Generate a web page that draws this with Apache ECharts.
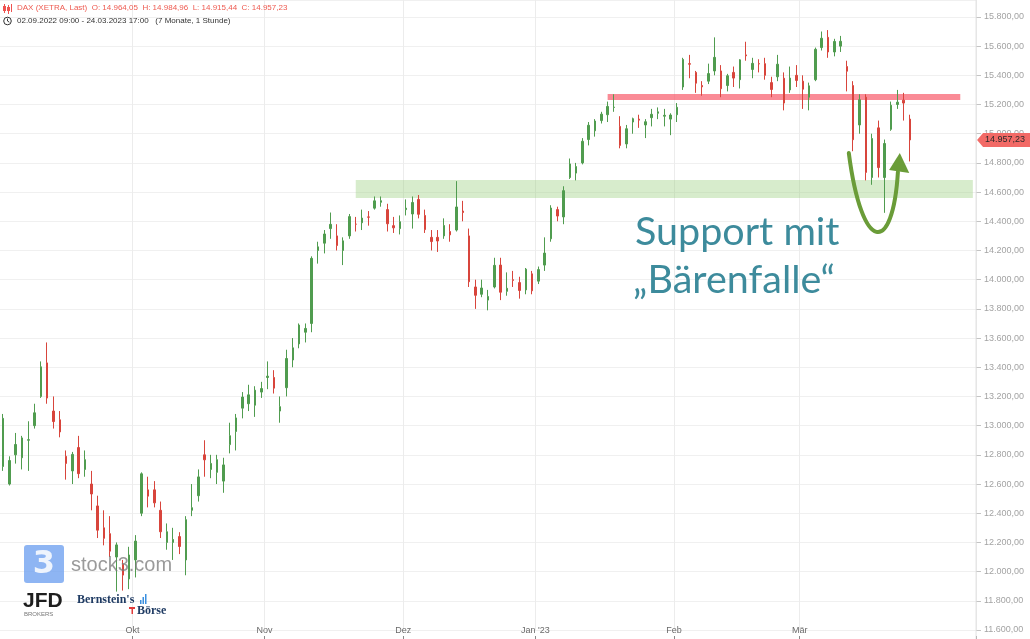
<!DOCTYPE html>
<html><head><meta charset="utf-8">
<script src="https://cdn.jsdelivr.net/npm/echarts@6/dist/echarts.min.js"></script>
<style>html,body{margin:0;padding:0;background:#fff}#c{width:1030px;height:639px}</style>
</head><body><div id="c"></div>
<script>
// ---- trading days (categories) ----
const sepDays = ['02','05','06','07','08','09','12','13','14','15','16','19','20','21','22','23','26','27','28','29','30'];
const octDays = ['03','04','05','06','07','10','11','12','13','14','17','18','19','20','21','24','25','26','27','28','31'];
const novDays = ['01','02','03','04','07','08','09','10','11','14','15','16','17','18','21','22','23','24','25','28','29','30'];
const decDays = ['01','02','05','06','07','08','09','12','13','14','15','16','19','20','21','22','23','27','28','29','30'];
const janDays = ['02','03','04','05','06','09','10','11','12','13','16','17','18','19','20','23','24','25','26','27','30','31'];
const febDays = ['01','02','03','06','07','08','09','10','13','14','15','16','17','20','21','22','23','24','27','28'];
const marDays = ['01','02','03','06','07','08','09','10','13','14','15','16','17','20','21','22','23','24'];
const futureDates = ['27.03.2023','28.03.2023','29.03.2023','30.03.2023','31.03.2023','03.04.2023','04.04.2023','05.04.2023','06.04.2023','11.04.2023'];

// ---- daily values [open, close, low, high] ----
const sepOHLC = [
[12720,13050,12690,13080],[12600,12761,12590,12790],[12800,12871,12740,12950],[12780,12916,12700,12930],
[12900,12904,12690,13030],[13000,13088,12980,13150],[13200,13403,13190,13440],[13430,13189,13150,13570],
[13100,13028,12980,13200],[13040,12957,12920,13100],[12790,12741,12630,12830],[12690,12803,12600,12820],
[12850,12671,12640,12930],[12700,12767,12650,12830],[12600,12532,12420,12690],[12450,12284,12230,12520],
[12300,12228,12180,12420],[12260,12140,12100,12380],[12100,12183,11863,12200],[12050,11976,11870,12080],
[11950,12114,11880,12170]];
const octOHLC = [
[12080,12209,11960,12250],[12400,12670,12380,12680],[12560,12517,12440,12650],[12560,12471,12440,12620],
[12420,12273,12230,12480],[12200,12273,12150,12330],[12200,12220,12080,12300],[12240,12172,12120,12270],
[12080,12356,11975,12380],[12420,12438,12380,12600],[12520,12649,12480,12700],[12800,12766,12650,12900],
[12700,12741,12640,12800],[12680,12767,12600,12800],[12620,12731,12540,12780],[12870,12931,12810,13020],
[12960,13053,12830,13080],[13120,13196,13050,13230],[13150,13211,13100,13280],[13140,13243,13060,13270],
[13230,13254,13190,13300]];
const novOHLC = [
[13330,13339,13250,13440],[13330,13257,13220,13380],[13100,13130,13020,13200],[13260,13460,13200,13520],
[13450,13533,13400,13600],[13560,13689,13530,13700],[13640,13666,13570,13700],[13700,14146,13640,14160],
[14200,14225,14110,14260],[14250,14313,14180,14340],[14350,14379,14280,14460],[14300,14234,14200,14380],
[14200,14266,14100,14290],[14300,14432,14280,14450],[14380,14380,14330,14430],[14390,14422,14340,14480],
[14430,14428,14370,14470],[14490,14540,14480,14570],[14530,14541,14500,14570],[14480,14383,14330,14520],
[14370,14355,14320,14430],[14350,14397,14310,14440]];
const decOHLC = [
[14480,14490,14440,14550],[14450,14529,14350,14570],[14550,14448,14420,14580],[14440,14343,14320,14480],
[14290,14261,14200,14340],[14290,14265,14190,14340],[14300,14371,14280,14420],[14330,14307,14260,14380],
[14340,14498,14330,14675],[14470,14460,14400,14540],[14300,13986,13950,14350],[13950,13893,13800,14000],
[13900,13943,13880,14000],[13860,13885,13790,13930],[13950,14098,13940,14150],[14100,13914,13860,14150],
[13920,13941,13890,14050],[14000,13995,13950,14060],[13980,13926,13870,14020],[13930,14072,13900,14080],
[14040,13924,13900,14060]];
const janOHLC = [
[13990,14069,13970,14090],[14100,14182,14060,14290],[14280,14491,14260,14510],[14480,14436,14400,14500],
[14430,14610,14380,14640],[14700,14793,14690,14830],[14730,14775,14680,14800],[14800,14948,14790,14970],
[14960,15058,14920,15080],[15020,15087,14980,15100],[15090,15134,15070,15150],[15130,15187,15080,15220],
[15180,15182,15150,15270],[15050,14920,14900,15120],[14930,15034,14900,15060],[15080,15103,15000,15110],
[15100,15093,15040,15130],[15060,15082,14970,15100],[15110,15133,15050,15170],[15140,15150,15100,15180],
[15120,15126,15050,15170],[15100,15128,14990,15140]];
const febOHLC = [
[15130,15181,15080,15210],[15320,15509,15300,15520],[15480,15476,15380,15540],[15420,15346,15280,15430],
[15330,15321,15260,15360],[15360,15412,15340,15480],[15430,15523,15400,15660],[15430,15308,15250,15470],
[15330,15397,15290,15410],[15420,15381,15320,15460],[15370,15506,15310,15510],[15540,15534,15500,15630],
[15440,15482,15380,15520],[15480,15478,15420,15510],[15480,15400,15370,15520],[15350,15303,15250,15390],
[15390,15476,15360,15540],[15380,15210,15160,15420],[15300,15381,15280,15460],[15400,15365,15320,15470]];
const marOHLC = [
[15360,15305,15170,15400],[15250,15328,15160,15350],[15370,15578,15360,15590],[15590,15654,15570,15700],
[15660,15560,15520,15710],[15560,15632,15530,15650],[15600,15633,15560,15670],[15460,15428,15290,15500],
[15330,14959,14880,15360],[15060,15233,15000,15270],[15250,14735,14680,15270],[14700,14967,14650,15000],
[15040,14768,14700,15090],[14700,14933,14458,14960],[15030,15195,15020,15220],[15200,15216,15170,15300],
[15230,15210,15090,15280],[15100,14957.23,14810,15130]];

// ---- levels / texts ----
const lastPrice = 14957.23;
const supportZone = [14560, 14683];      // green band
const resistanceZone = [15231, 15272];   // red band
const monthNames = {'10':'Okt','11':'Nov','12':'Dez','01':"Jan '23",'02':'Feb','03':'Mär'};
const headerLine1 = 'DAX (XETRA, Last)  O: 14.964,05  H: 14.984,96  L: 14.915,44  C: 14.957,23';
const headerLine2 = '02.09.2022 09:00 - 24.03.2023 17:00   (7 Monate, 1 Stunde)';

const dates = [].concat(
  sepDays.map(d => d + '.09.2022'), octDays.map(d => d + '.10.2022'), novDays.map(d => d + '.11.2022'),
  decDays.map(d => d + '.12.2022'), janDays.map(d => d + '.01.2023'), febDays.map(d => d + '.02.2023'),
  marDays.map(d => d + '.03.2023'));
const categories = dates.concat(futureDates);
const ohlc = [].concat(sepOHLC, octOHLC, novOHLC, decOHLC, janOHLC, febOHLC, marOHLC);

function isMonthStart(i) {
  if (i === 0) return false;
  const m = categories[i].slice(3, 5), pm = categories[i - 1].slice(3, 5);
  return m !== pm && !!monthNames[m];
}
function de(v) {
  const s = Number(v).toFixed(2).split('.');
  return s[0].replace(/\B(?=(\d{3})+(?!\d))/g, '.') + ',' + s[1];
}

const chart = echarts.init(document.getElementById('c'));
const UP = '#509c4f', DOWN = '#d8453c';
chart.setOption({
  animation: false,
  grid: {left: 0, right: 54, top: 0, bottom: 9},
  xAxis: [{
    type: 'category', data: categories, boundaryGap: true,
    axisLine: {show: false}, axisTick: {show: false},
    axisLabel: {interval: (i) => isMonthStart(i), formatter: (v) => monthNames[v.slice(3, 5)] || '',
      color: '#6a6a6a', fontSize: 9, margin: 1, verticalAlign: 'middle', padding: [0, 6, 0, 0], fontFamily: 'Liberation Sans, Arial'},
    splitLine: {show: true, interval: (i) => isMonthStart(i), lineStyle: {color: '#ececec'}}
  }, {
    type: 'category', data: categories, boundaryGap: true, position: 'bottom', offset: 6,
    axisLine: {show: false},
    axisTick: {show: true, length: 3, interval: (i) => isMonthStart(i), lineStyle: {color: '#888'}},
    axisLabel: {show: false}, splitLine: {show: false}
  }],
  yAxis: {
    type: 'value', position: 'right', min: 11600, max: 15916, interval: 200,
    axisLine: {show: false},
    axisTick: {show: true, length: 5, lineStyle: {color: '#c4c4c4'}},
    axisLabel: {margin: 8, color: '#a3a3a3', fontSize: 9, formatter: de, showMaxLabel: false, fontFamily: 'Liberation Sans, Arial'},
    splitLine: {lineStyle: {color: '#f0f0f0'}}
  },
  series: [{
    type: 'candlestick', data: ohlc, barWidth: 2,
    itemStyle: {color: UP, color0: DOWN, borderColor: UP, borderColor0: DOWN, borderWidth: 1},
    markArea: {silent: true, data: [
      [{xAxis: 56, yAxis: supportZone[0], itemStyle: {color: 'rgba(150,205,120,0.38)'}}, {xAxis: 154, yAxis: supportZone[1]}],
      [{xAxis: 96, yAxis: resistanceZone[0], itemStyle: {color: 'rgba(248,84,100,0.68)'}}, {xAxis: 152, yAxis: resistanceZone[1]}]
    ]}
  }]
});

// pixel helper for annotations (data coords -> px, fractional index allowed)
function toPx(fi, v) {
  const i0 = Math.floor(fi);
  const p0 = chart.convertToPixel({gridIndex: 0}, [i0, v]);
  const p1 = chart.convertToPixel({gridIndex: 0}, [i0 + 1, v]);
  return [p0[0] + (p1[0] - p0[0]) * (fi - i0), p0[1]];
}
const arrowCurve = [[134.3, 14868], [136.4, 14169], [141.3, 14169], [142.1, 14738]];
const arrowHead = [[142.4, 14868], [140.7, 14752], [143.9, 14731]];
const c = arrowCurve.map(p => toPx(p[0], p[1]));
const h = arrowHead.map(p => toPx(p[0], p[1]));
const tagY = chart.convertToPixel({yAxisIndex: 0}, lastPrice);
const axisX = chart.convertToPixel({gridIndex: 0}, [categories.length - 1, 0])[0] + 3.2;
const textStyleBase = {fontFamily: 'Liberation Sans, Arial, sans-serif'};

chart.setOption({graphic: [
  {type: 'line', z: 50, shape: {x1: axisX, y1: 0, x2: axisX, y2: 639}, style: {stroke: '#e2e2e2', lineWidth: 1}},
  // header icon (candles)
  {type: 'group', z: 100, children: [
    {type: 'line', shape: {x1: 4.5, y1: 4, x2: 4.5, y2: 13}, style: {stroke: '#ef5350', lineWidth: 1}},
    {type: 'rect', shape: {x: 3, y: 6, width: 3, height: 5}, style: {fill: '#ef5350'}},
    {type: 'line', shape: {x1: 8.5, y1: 5, x2: 8.5, y2: 14}, style: {stroke: '#ef5350', lineWidth: 1}},
    {type: 'rect', shape: {x: 7, y: 7, width: 3, height: 4}, style: {fill: '#ef5350'}},
    {type: 'line', shape: {x1: 11.5, y1: 4, x2: 11.5, y2: 12}, style: {stroke: '#ef5350', lineWidth: 1}}
  ]},
  {type: 'text', z: 100, left: 17, top: 4, style: Object.assign({text: headerLine1, fill: '#ee5a50', fontSize: 8}, textStyleBase)},
  // clock icon
  {type: 'circle', z: 100, shape: {cx: 7.5, cy: 21, r: 3.8}, style: {fill: 'none', stroke: '#333', lineWidth: 1}},
  {type: 'polyline', z: 100, shape: {points: [[7.5, 18.6], [7.5, 21], [9.3, 22.2]]}, style: {fill: 'none', stroke: '#333', lineWidth: 1}},
  {type: 'text', z: 100, left: 17, top: 16.5, style: Object.assign({text: headerLine2, fill: '#333', fontSize: 8}, textStyleBase)},
  // annotation text
  {type: 'text', z: 100, x: 635, y: 232, style: {text: 'Support mit', fill: '#3d8b9c', fontSize: 39.5, fontFamily: 'Lato, Open Sans, sans-serif', verticalAlign: 'middle'}},
  {type: 'text', z: 100, x: 633, y: 280, style: {text: '\u201EBärenfalle\u201C', fill: '#3d8b9c', fontSize: 39.5, fontFamily: 'Lato, Open Sans, sans-serif', verticalAlign: 'middle'}},
  // arrow
  {type: 'bezierCurve', z: 100, shape: {x1: c[0][0], y1: c[0][1], cpx1: c[1][0], cpy1: c[1][1], cpx2: c[2][0], cpy2: c[2][1], x2: c[3][0], y2: c[3][1]},
    style: {stroke: '#6a9c38', lineWidth: 4, fill: 'none', lineCap: 'round'}},
  {type: 'polygon', z: 100, shape: {points: h}, style: {fill: '#6a9c38'}},
  // last price tag
  {type: 'polygon', z: 110, shape: {points: [[axisX + 1, tagY], [axisX + 7, tagY - 7], [1030, tagY - 7], [1030, tagY + 7], [axisX + 7, tagY + 7]]}, style: {fill: '#f26a66'}},
  {type: 'text', z: 111, x: axisX + 9, y: tagY, style: Object.assign({text: de(lastPrice), fill: '#2a2a2a', fontSize: 9, verticalAlign: 'middle'}, textStyleBase)},
  // logos
  {type: 'rect', z: 100, shape: {x: 24, y: 545, width: 40, height: 38, r: 3}, style: {fill: 'rgba(110,160,240,0.78)'}},
  {type: 'text', z: 101, x: 44, y: 565, style: {text: '3', fill: 'rgba(255,255,255,0.85)', fontSize: 32, fontWeight: 'bold', align: 'center', verticalAlign: 'middle', fontFamily: 'DejaVu Sans, sans-serif'}},
  {type: 'text', z: 100, x: 71, y: 565, style: {text: 'stock3.com', fill: 'rgba(120,120,120,0.75)', fontSize: 20, verticalAlign: 'middle', fontFamily: 'Liberation Sans, Arial'}},
  {type: 'text', z: 100, x: 23, y: 601, style: {text: 'JFD', fill: '#1e1e1e', fontSize: 21, fontWeight: 'bold', verticalAlign: 'middle', fontFamily: 'Liberation Sans, Arial'}},
  {type: 'text', z: 100, x: 24, y: 614, style: {text: 'BROKERS', fill: '#777', fontSize: 6, verticalAlign: 'middle', fontFamily: 'Liberation Sans, Arial'}},
  {type: 'text', z: 100, x: 77, y: 600, style: {text: "Bernstein's", fill: '#1f3b63', fontSize: 12, fontWeight: 'bold', verticalAlign: 'middle', fontFamily: 'Liberation Serif, DejaVu Serif, serif'}},
  {type: 'rect', z: 100, shape: {x: 140, y: 600, width: 1.5, height: 4}, style: {fill: '#3a8fe0'}},
  {type: 'rect', z: 100, shape: {x: 142.5, y: 597, width: 1.5, height: 7}, style: {fill: '#3a8fe0'}},
  {type: 'rect', z: 100, shape: {x: 145, y: 594, width: 1.5, height: 10}, style: {fill: '#3a8fe0'}},
  {type: 'rect', z: 100, shape: {x: 129, y: 607, width: 6, height: 2}, style: {fill: '#e03a3a'}},
  {type: 'rect', z: 100, shape: {x: 131.5, y: 607, width: 1.5, height: 7}, style: {fill: '#e03a3a'}},
  {type: 'text', z: 100, x: 137, y: 611, style: {text: 'Börse', fill: '#1f3b63', fontSize: 12, fontWeight: 'bold', verticalAlign: 'middle', fontFamily: 'Liberation Serif, DejaVu Serif, serif'}}
]});
</script></body></html>
